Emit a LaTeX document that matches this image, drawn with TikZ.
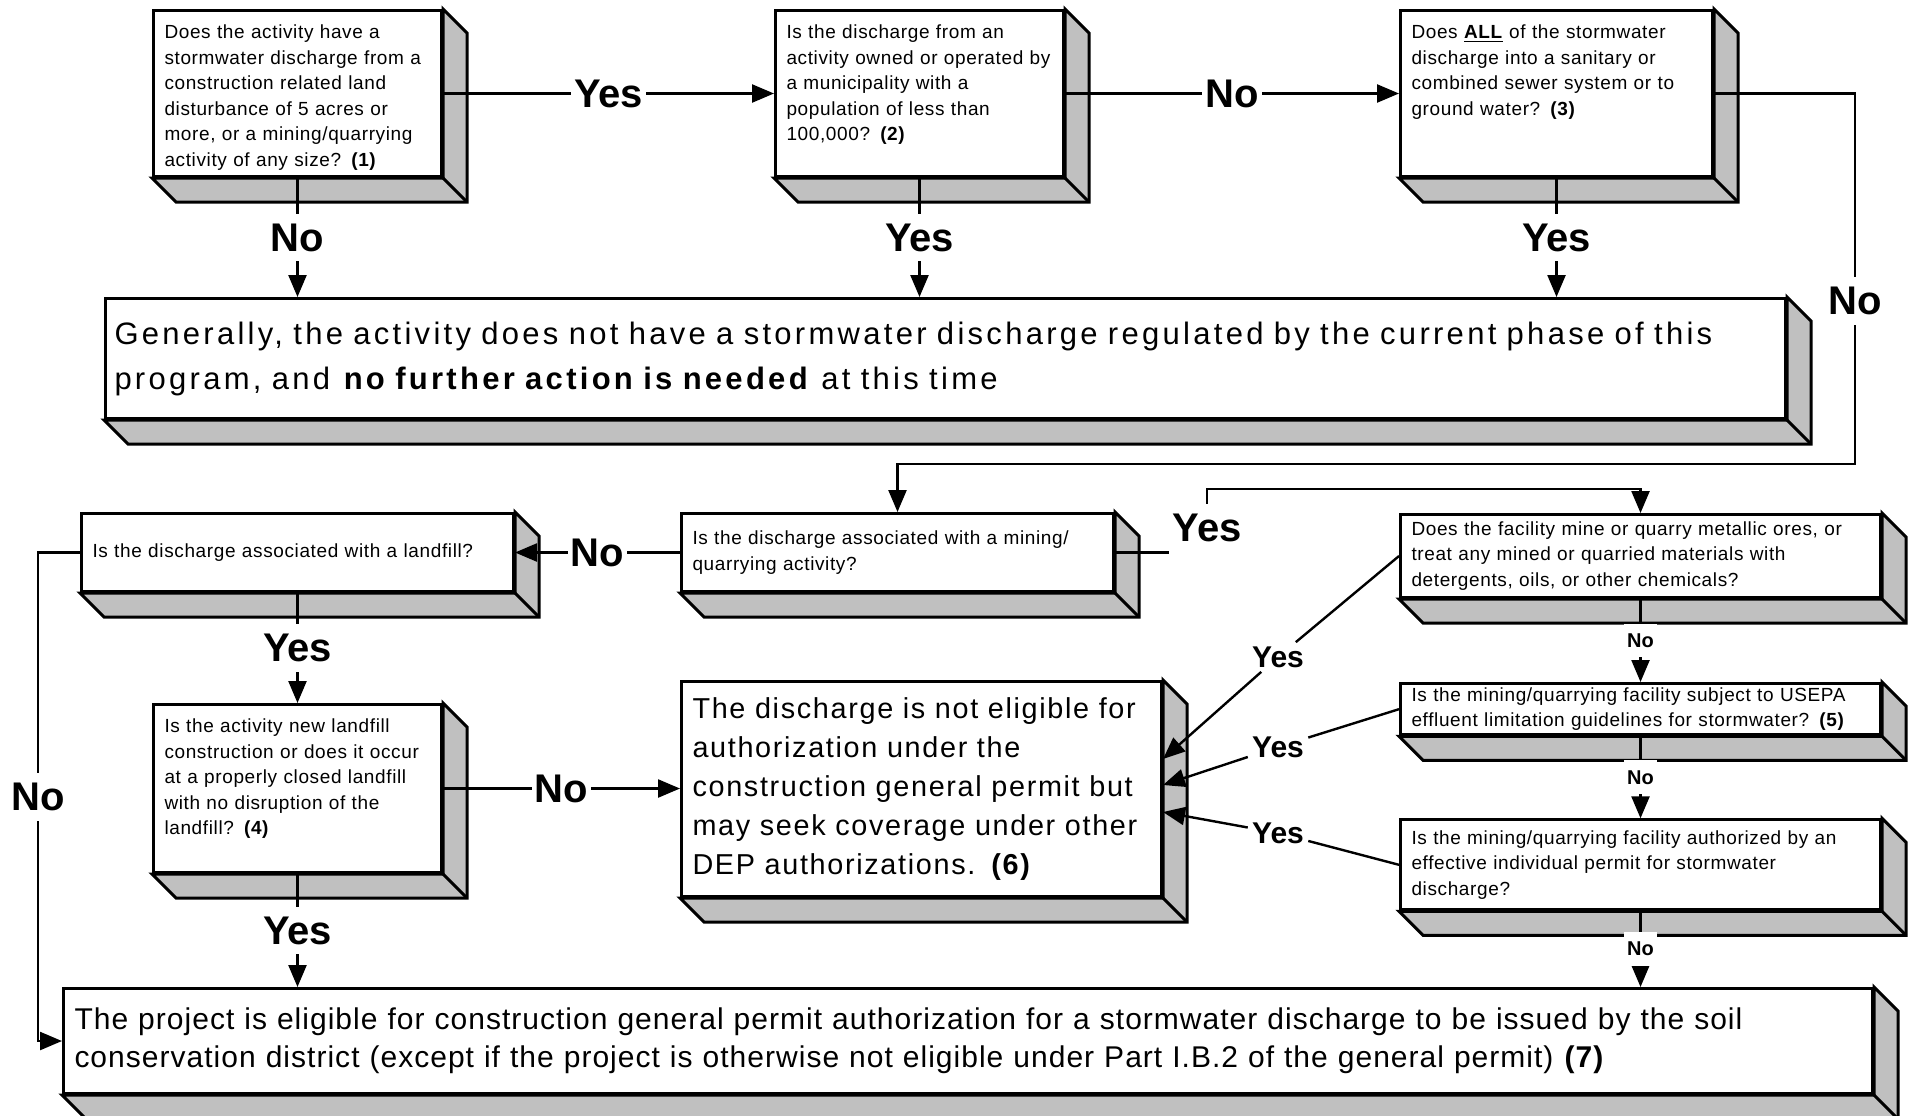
\documentclass[tikz,border=0pt]{standalone}
\usepackage{fontspec}
\setmainfont{Liberation Sans}
\newfontfamily\qfont{Liberation Sans}[LetterSpace=3.3]
\newfontfamily\genfont{Liberation Sans}[LetterSpace=10.6]
\newfontfamily\nfont{Liberation Sans}[LetterSpace=5.8]
\newfontfamily\ffont{Liberation Sans}[LetterSpace=3.4]
\usepackage{tikz}
\usetikzlibrary{positioning, arrows.meta}
\definecolor{sidegray}{RGB}{192,192,192}
\tikzset{
	qbox/.style={draw, fill=white, line width=1.5pt, anchor=north west, align=left, inner xsep=5.5pt, inner ysep=2pt, font=\qfont\fontsize{9.5}{12.8}\selectfont},
	topbox/.style={qbox, inner ysep=7pt, text height=7pt, text depth=#1},
	genbox/.style={qbox, inner xsep=4.5pt, font=\genfont\fontsize{15.5}{22.5}\selectfont},
	nbox/.style={qbox, font=\nfont\fontsize{14.4}{19.5}\selectfont},
	fbox/.style={qbox, font=\ffont\fontsize{15}{19}\selectfont},
	sideface/.style={fill=sidegray, draw=black, line width=1.5pt},
	conn/.style={line width=1.2pt},
	arr/.style={conn, -{Triangle[length=11pt,width=9pt]}},
	bigl/.style={fill=white, font=\bfseries\fontsize{20}{20}\selectfont, inner xsep=1.5pt, inner ysep=5pt},
	midl/.style={fill=white, font=\bfseries\fontsize{15}{15}\selectfont, inner sep=2pt},
	smalll/.style={fill=white, font=\bfseries\fontsize{10}{10}\selectfont, inner xsep=1.5pt, inner ysep=5pt}
}
\begin{document}
\begin{tikzpicture}[x=0.5pt, y=-0.5pt]
		\path[use as bounding box, fill=white] (0,0) rectangle (1910,1115);
		
		\node[topbox=62pt, text width=133pt] (q1) at (152,9) {Does the activity have a\\stormwater discharge from a\\construction related land\\disturbance of 5 acres or\\more, or a mining/quarrying\\activity of any size? \textbf{(1)}};
		\node[topbox=62pt, text width=133pt, right=165.5pt of q1] (q2) {Is the discharge from an\\activity owned or operated by\\a municipality with a\\population of less than\\100,000? \textbf{(2)}};
		\node[topbox=62pt, text width=145pt, right=167pt of q2] (q3) {Does \underline{\textbf{ALL}} of the stormwater\\discharge into a sanitary or\\combined sewer system or to\\ground water? \textbf{(3)}};
		\node[genbox, text width=831pt, minimum height=60pt] (gen) at (104,297) {Generally, the activity does not have a stormwater discharge regulated by the current phase of this\\program, and \textbf{no further action is needed} at this time};
		\node[qbox, text width=205pt, minimum height=39pt] (ql) at (80,512) {Is the discharge associated with a landfill?};
		\node[qbox, text width=205pt, minimum height=39pt] (qm) at (680,512) {Is the discharge associated with a mining/\\quarrying activity?};
		\node[topbox=63pt, text width=133pt, below=55pt of ql] (q4) {Is the activity new landfill\\construction or does it occur\\at a properly closed landfill\\with no disruption of the\\landfill? \textbf{(4)}};
		\node[nbox, text width=229pt, minimum height=107.5pt] (n6) at (680,680) {The discharge is not eligible for\\authorization under the\\construction general permit but\\may seek coverage under other\\DEP authorizations. \textbf{(6)}};
		\node[qbox, text width=229pt, minimum height=41.5pt] (qmetal) at (1399,513) {Does the facility mine or quarry metallic ores, or\\treat any mined or quarried materials with\\detergents, oils, or other chemicals?};
		\node[qbox, text width=229pt, minimum height=25.5pt, below=41.5pt of qmetal] (q5) {Is the mining/quarrying facility subject to USEPA\\effluent limitation guidelines for stormwater? \textbf{(5)}};
		\node[qbox, text width=229pt, minimum height=45pt, below=41pt of q5] (qind) {Is the mining/quarrying facility authorized by an\\effective individual permit for stormwater\\discharge?};
		\node[fbox, text width=893.5pt, minimum height=52.5pt] (f7) at (62,987) {The project is eligible for construction general permit authorization for a stormwater discharge to be issued by the soil\\conservation district (except if the project is otherwise not eligible under Part I.B.2 of the general permit) \textbf{(7)}};
		
		\foreach \n in {q1,q2,q3,gen,ql,qm,q4,n6,qmetal,q5,qind,f7}{
			\filldraw[sideface] (\n.north east) -- ++(24,24) -- ([shift={(24,24)}]\n.south east) -- ([shift={(24,24)}]\n.south west) -- (\n.south west) -- (\n.south east) -- cycle;
			\draw[sideface] (\n.south east) -- ++(24,24);
		}
		
		\draw[arr] (q1.east) -- node[bigl]{Yes} (q2.west);
		\draw[arr] (q2.east) -- node[bigl]{No} (q3.west);
		\draw[arr] (q1.south) -- node[bigl]{No} (q1.south |- gen.north);
		\draw[arr] (q2.south) -- node[bigl]{Yes} (q2.south |- gen.north);
		\draw[arr] (q3.south) -- node[bigl]{Yes} (q3.south |- gen.north);
		\coordinate (r3) at (1855,464);
		\draw[arr] (q3.east) -| node[bigl, pos=0.78]{No} (r3) -| (qm.north);
		
		\draw[arr] (qm.west) -- node[bigl]{No} (ql.east);
		\node[bigl] (ym) at (1207,528) {Yes};
		\draw[conn] (qm.east) -- (qm.east -| ym.west);
		\draw[arr] (ym.north) |- ([yshift=12pt]qmetal.north) -- (qmetal.north);
		\draw[arr] (ql.south) -- node[bigl]{Yes} (q4.north);
		\draw[arr] (q4.east) -- node[bigl]{No} (n6.west |- q4.east);
		\draw[arr] (q4.south) -- node[bigl]{Yes} (q4.south |- f7.north);
		\draw[arr] (ql.west) -- ++(-42,0) |- node[bigl, pos=0.25]{No} (f7.west);
		
		\node[midl] (y1) at (1278,657) {Yes};
		\node[midl] (y2) at (1278,747) {Yes};
		\node[midl] (y3) at (1278,833) {Yes};
		\draw[conn] (qmetal.west) -- (y1);
		\draw[arr] (y1) -- ([yshift=15pt]n6.east);
		\draw[conn] (q5.west) -- (y2);
		\draw[arr] (y2) -- ([yshift=2pt]n6.east);
		\draw[conn] (qind.west) -- (y3);
		\draw[arr] (y3) -- ([yshift=-11.5pt]n6.east);
		
		\draw[arr] (qmetal.south) -- node[smalll]{No} (q5.north);
		\draw[arr] (q5.south) -- node[smalll]{No} (qind.north);
		\draw[arr] (qind.south) -- node[smalll]{No} (qind.south |- f7.north);
	\end{tikzpicture}
\end{document}
